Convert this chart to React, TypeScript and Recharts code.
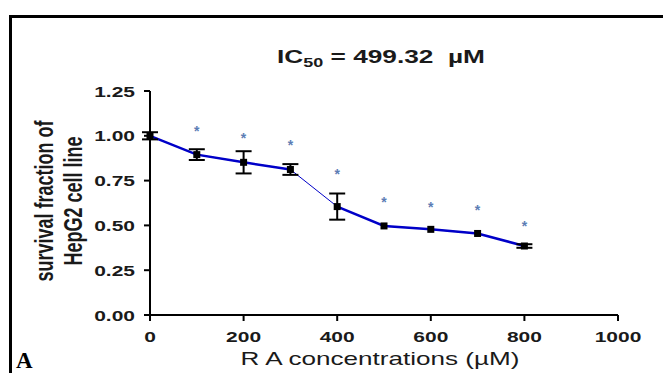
import React from "react";
import {
  ComposedChart,
  Line,
  Scatter,
  XAxis,
  YAxis,
  ErrorBar,
} from "recharts";

// concentrations (µM) and mean survival fraction, with SEM
const doses = [0, 100, 200, 300, 400, 500, 600, 700, 800];
const survival = [1.0, 0.895, 0.852, 0.812, 0.605, 0.497, 0.478, 0.455, 0.385];
const sem = [0.02, 0.03, 0.062, 0.03, 0.073, 0, 0, 0, 0.01];
// height of the significance star above each point (none at 0)
const starY = [null, 1.03, 0.995, 0.955, 0.79, 0.635, 0.61, 0.592, 0.5];

const xTicks = [0, 200, 400, 600, 800, 1000];
const yTicks = [0, 0.25, 0.5, 0.75, 1.0, 1.25];

const LINE_BLUE = "#0000c8";
const STAR_BLUE = "#5c7db5";
const INK = "#1a1a1a";
const FONT = "'Liberation Sans', Arial, sans-serif";
// the original figure is stretched sideways, text included
const STRETCH = 1.4;

const rows = doses.map((d, i) => ({
  dose: d,
  value: survival[i],
  err: sem[i],
  // two thick segments, the 300 -> 400 step is drawn thin
  seg1: d <= 300 ? survival[i] : null,
  seg2: d >= 400 ? survival[i] : null,
  star: starY[i],
}));

function SquareDot(props: any) {
  const { cx, cy } = props;
  if (cx == null || cy == null) return null;
  return <rect x={cx - 3.5} y={cy - 3.5} width={7} height={7} fill="#000" />;
}

function Star(props: any) {
  const { cx, cy } = props;
  if (cx == null || cy == null) return null;
  return (
    <text
      x={cx}
      y={cy + 6}
      textAnchor="middle"
      fontFamily={FONT}
      fontWeight="bold"
      fontSize={14}
      fill={STAR_BLUE}
    >
      *
    </text>
  );
}

function XTick(props: any) {
  const { x, y, payload } = props;
  return (
    <text
      transform={`translate(${x},${y + 19}) scale(${STRETCH},1)`}
      textAnchor="middle"
      fontFamily={FONT}
      fontWeight="bold"
      fontSize={15}
      fill={INK}
    >
      {payload.value}
    </text>
  );
}

function YTick(props: any) {
  const { x, y, payload } = props;
  return (
    <text
      transform={`translate(${x},${y + 5.5}) scale(${STRETCH},1)`}
      textAnchor="end"
      fontFamily={FONT}
      fontWeight="bold"
      fontSize={15}
      fill={INK}
    >
      {Number(payload.value).toFixed(2)}
    </text>
  );
}

function XLabel() {
  return (
    <text
      transform={`translate(380,365) scale(1.45,1)`}
      textAnchor="middle"
      fontFamily={FONT}
      fontSize={18}
      fill={INK}
    >
      R A concentrations (µM)
    </text>
  );
}

function YLabel() {
  const lines = [
    { text: "survival fraction of", x: 53 },
    { text: "HepG2 cell line", x: 82 },
  ];
  return (
    <g>
      {lines.map((l) => (
        <text
          key={l.text}
          transform={`translate(${l.x},201) rotate(-90) scale(1,1.45)`}
          textAnchor="middle"
          fontFamily={FONT}
          fontWeight="bold"
          fontSize={18}
          fill={INK}
        >
          {l.text}
        </text>
      ))}
    </g>
  );
}

export default function App() {
  return (
    <div
      style={{
        position: "absolute",
        left: 0,
        top: 0,
        width: 663,
        height: 373,
        overflow: "hidden",
        background: "#fff",
      }}
    >
      {/* panel frame */}
      <div
        style={{
          position: "absolute",
          left: 9,
          top: 15,
          width: 700,
          height: 400,
          borderLeft: "3px solid #000",
          borderTop: "3px solid #000",
        }}
      />
      <svg
        width={663}
        height={373}
        style={{ position: "absolute", left: 0, top: 0 }}
      >
        <text
          transform="translate(277,63) scale(1.5,1)"
          fontFamily={FONT}
          fontWeight="bold"
          fontSize={17.5}
          fill={INK}
        >
          IC
          <tspan fontSize={12} dy={4}>
            50
          </tspan>
          <tspan dy={-4}>{"\u00a0= 499.32\u00a0\u00a0µM"}</tspan>
        </text>
        <text
          x={16}
          y={368}
          fontFamily="'Liberation Serif', 'Times New Roman', serif"
          fontWeight="bold"
          fontSize={23}
          fill="#000"
        >
          A
        </text>
      </svg>

      <ComposedChart
        width={663}
        height={373}
        data={rows}
        margin={{ top: 91, right: 45, bottom: 18, left: 0 }}
        style={{ position: "absolute", left: 0, top: 0 }}
      >
        <XAxis
          dataKey="dose"
          type="number"
          domain={[0, 1000]}
          ticks={xTicks}
          height={40}
          tick={<XTick />}
          tickSize={6}
          axisLine={{ stroke: "#000", strokeWidth: 2 }}
          tickLine={{ stroke: "#000", strokeWidth: 2 }}
          label={{ content: () => <XLabel /> }}
        />
        <YAxis
          type="number"
          domain={[0, 1.25]}
          ticks={yTicks}
          width={150}
          tick={<YTick />}
          tickSize={6}
          tickMargin={9}
          axisLine={{ stroke: "#000", strokeWidth: 2 }}
          tickLine={{ stroke: "#000", strokeWidth: 2 }}
          label={{ content: () => <YLabel /> }}
        />
        <Line
          dataKey="value"
          stroke={LINE_BLUE}
          strokeWidth={1}
          dot={false}
          isAnimationActive={false}
        />
        <Line
          dataKey="seg1"
          stroke={LINE_BLUE}
          strokeWidth={2.5}
          dot={false}
          connectNulls={false}
          isAnimationActive={false}
        />
        <Line
          dataKey="seg2"
          stroke={LINE_BLUE}
          strokeWidth={2.5}
          dot={false}
          connectNulls={false}
          isAnimationActive={false}
        />
        <Line
          dataKey="value"
          stroke="none"
          dot={<SquareDot />}
          isAnimationActive={false}
        >
          <ErrorBar
            dataKey="err"
            direction="y"
            width={8}
            stroke="#000"
            strokeWidth={2}
          />
        </Line>
        <Scatter dataKey="star" shape={<Star />} isAnimationActive={false} />
      </ComposedChart>
    </div>
  );
}
